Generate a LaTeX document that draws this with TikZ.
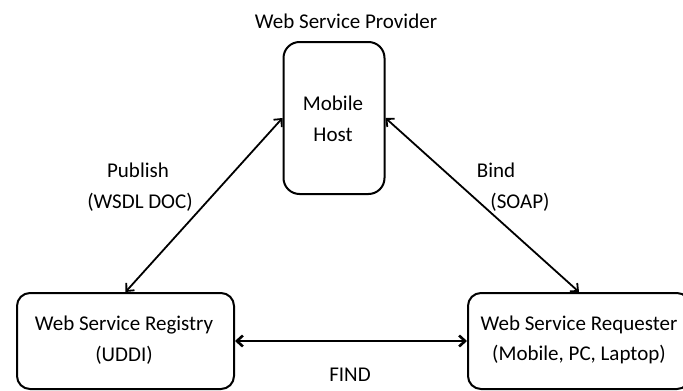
\documentclass[tikz,border=0pt]{standalone}
\usepackage{fontspec}
\setmainfont{Carlito}
\usetikzlibrary{arrows.meta}
\begin{document}
\begin{tikzpicture}[x=1pt,y=-1pt,
  box/.style={draw=black,line width=2pt,rounded corners=13pt,align=center,inner sep=0pt},
  lbl/.style={font=\fontsize{21}{30}\selectfont,align=center,inner sep=0pt},
  conn/.style={line width=1.8pt,{Straight Barb[length=6pt,width=11pt]}-{Straight Barb[length=6pt,width=11pt]}}]
\useasboundingbox (0,0) rectangle (683,391);
\clip (0,0) rectangle (683,391);
\node[box,minimum width=101pt,minimum height=152pt,rounded corners=16pt] (prov) at (334,118) {};
\node[box,minimum width=217pt,minimum height=96pt] (reg) at (125.5,341) {};
\node[box,minimum width=222pt,minimum height=96pt] (req) at (579,341) {};
\node[lbl] (t1) at (346,21) {Web Service Provider};
\node[lbl] (t2) at (333,103) {Mobile};
\node[lbl] (t3) at (333,135) {Host};
\node[lbl] (t4) at (124,325) {Web Service Registry};
\node[lbl] (t5) at (124,355) {(UDDI)};
\node[lbl] (t6) at (579,325) {Web Service Requester};
\node[lbl] (t7) at (579,355) {(Mobile, PC, Laptop)};
\node[lbl] (t8) at (138,170) {Publish};
\node[lbl] (t9) at (140,202) {(WSDL DOC)};
\node[lbl] (t10) at (496,170) {Bind};
\node[lbl] (t11) at (520,202) {(SOAP)};
\node[lbl] (t12) at (350,375) {FIND};
\draw[conn] (reg.north) -- (prov.west);
\draw[conn] (prov.east) -- (req.north);
\draw[conn,line width=2.6pt] (reg.east) -- (req.west);
\end{tikzpicture}
\end{document}
